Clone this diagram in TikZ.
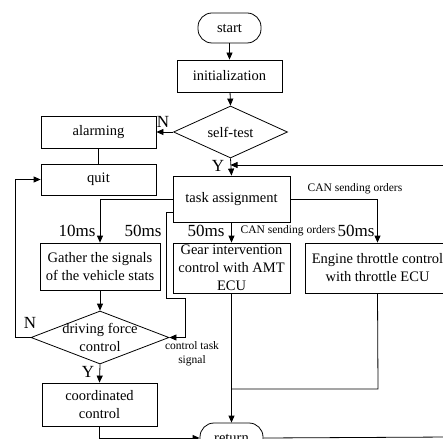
\documentclass[tikz,border=0pt]{standalone}
\usepackage{fontspec}
\setmainfont{Liberation Serif}
\usetikzlibrary{shapes.geometric,arrows.meta}
\begin{document}
\begin{tikzpicture}[x=1pt,y=-1pt,
  line width=0.8pt,
  every node/.style={font=\fontsize{14.5}{18}\selectfont},
  box/.style={draw,rectangle,inner sep=0pt,align=center},
  term/.style={draw,rectangle,rounded corners=14pt,inner sep=0pt,minimum width=63pt,minimum height=30pt},
  dia/.style={draw,diamond,inner sep=0pt},
  big/.style={font=\fontsize{17}{20}\selectfont,inner sep=0pt},
  small/.style={font=\fontsize{11.5}{14}\selectfont,inner sep=0pt,align=center},
  arr/.style={-{Triangle[length=7pt,width=6pt]}}]
\useasboundingbox (0,0) rectangle (443,438);
\clip (0,0) rectangle (443,438);

\node[term] (start) at (229.5,28) {start};
\node[box,minimum width=105pt,minimum height=32pt] (init) at (229.5,76) {initialization};
\node[dia,minimum width=114pt,minimum height=52pt,label={center:self-test}] (self) at (230.5,132) {};
\node[box,minimum width=115pt,minimum height=32pt] (alarm) at (98.5,132) {alarming};
\node[box,minimum width=115pt,minimum height=31pt] (quit) at (98.5,179.5) {quit};
\node[box,minimum width=117pt,minimum height=46pt] (task) at (231.5,199) {task assignment};
\node[box,minimum width=120pt,minimum height=47pt] (gather) at (100,266.5) {Gather the signals\\of the vehicle stats};
\node[box,minimum width=117pt,minimum height=50pt] (gear) at (231.5,268) {Gear intervention\\control with AMT\\ECU};
\node[box,minimum width=145pt,minimum height=50pt] (thr) at (377.5,268) {Engine throttle control\\with throttle ECU};
\node[dia,minimum width=138pt,minimum height=53pt,label={[align=center]center:driving force\\control}] (dfc) at (100,337.5) {};
\node[box,minimum width=115pt,minimum height=43pt] (coord) at (99.5,404.5) {coordinated\\control};
\node[term] (ret) at (231.5,438) {return};

% labels
\node[big] (n1) at (163,122) {N};
\node[big] (y1) at (218,166) {Y};
\node[big] (n2) at (30,323) {N};
\node[big] (y2) at (88,372) {Y};
\node[big] (t10) at (77,231) {10ms};
\node[big] (t50a) at (143,231) {50ms};
\node[big] (t50b) at (206,231) {50ms};
\node[big] (t50c) at (356,231) {50ms};
\node[small] (can1) at (288,231) {CAN sending orders};
\node[small] (can2) at (355,189) {CAN sending orders};
\node[small] (cts) at (192,354) {control task\\signal};

% coordinates
\coordinate (loopR) at (450,165);
\coordinate (retR) at (450,437);
\coordinate (tw2) at (173,212);
\coordinate (b1) at (166,298);
\coordinate (b2) at (185,298);
\coordinate (qx) at (15,337.5);
\coordinate (jn) at (378,389);

% connectors
\draw[arr] (start) -- (init);
\draw[arr] (init) -- (self.north);
\draw[arr] (self.west) -- (alarm.east);
\draw (alarm) -- (quit);
\draw[arr] (self.south) -- (task.north);
\draw[arr] (loopR) -- (self.south |- loopR);
\draw[arr] (task.west) -| (gather.north);
\draw[arr] (tw2) -| (b1) -- (b2) |- (dfc.east);
\draw[arr] (gather) -- (dfc.north);
\draw[arr] (dfc.west) -- (qx) |- (quit.west);
\draw[arr] (dfc.south) -- (coord.north);
\draw[arr] (coord.south) |- (ret.west);
\draw[arr] (task) -- (gear);
\draw[arr] (task.east) -| (thr.north);
\draw[arr] (gear) -- (ret.north);
\draw (thr.south) -- (jn) -- (gear.south |- jn);
\draw (ret.east) -- (retR);
\end{tikzpicture}
\end{document}
